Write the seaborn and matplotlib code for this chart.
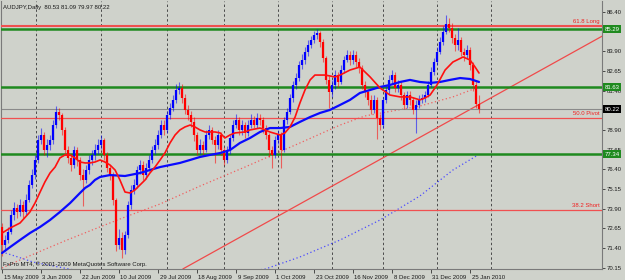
import numpy as np
import pandas as pd
import matplotlib
matplotlib.use("Agg")
import matplotlib.pyplot as plt
import matplotlib.transforms as mtransforms
import seaborn as sns

sns.set_style("white")
plt.rcParams['font.family'] = ['Liberation Sans', 'DejaVu Sans']

# ---------------- data ----------------
header_text = "AUDJPY,Daily  80.53 81.09 79.97 80.22"
footer_text = "FxPro MT4, \u00a9 2001-2009 MetaQuotes Software Corp."

first_open = 72.70
closes = [71.58, 71.90, 72.41, 73.49, 73.93, 73.68, 74.13, 73.68, 74.44, 75.40,
          76.03, 76.99, 78.26, 78.58, 77.62, 77.94, 78.26, 79.21, 80.04, 79.85,
          78.90, 77.62, 77.11, 76.67, 77.62, 76.99, 76.03, 75.72, 76.35, 76.99,
          77.31, 77.62, 77.94, 78.26, 77.31, 76.48, 76.03, 74.44, 71.58, 72.03,
          71.26, 72.22, 74.13, 75.08, 75.40, 76.35, 76.67, 76.03, 76.48, 76.99,
          77.62, 77.94, 78.58, 79.21, 78.90, 79.85, 80.30, 80.81, 81.44, 81.57,
          80.93, 80.17, 79.85, 79.41, 78.58, 77.62, 77.94, 77.62, 78.58, 78.90,
          78.26, 77.94, 78.58, 77.62, 76.99, 77.62, 78.39, 79.21, 79.53, 78.90,
          79.21, 78.71, 79.21, 79.53, 79.21, 79.66, 79.53, 79.02, 78.58, 77.62,
          77.31, 78.26, 78.58, 77.62, 79.53, 80.04, 80.93, 81.76, 82.20, 83.03,
          83.35, 83.86, 84.30, 84.62, 84.94, 85.07, 84.50, 83.48, 82.08, 81.31,
          81.76, 82.39, 81.95, 82.71, 83.35, 83.67, 83.35, 83.67, 83.22, 82.84,
          81.76, 81.31, 80.81, 80.17, 80.81, 79.66, 79.21, 80.81, 81.44, 82.08,
          82.39, 81.57, 81.76, 81.12, 80.49, 81.12, 80.81, 80.17, 80.49, 80.81,
          80.93, 81.12, 81.76, 82.58, 83.22, 83.86, 84.50, 85.13, 85.64, 85.38,
          84.75, 84.30, 84.62, 83.86, 83.67, 83.99, 83.03, 81.76, 80.53, 80.22]
highs = [72.95, 72.20, 72.70, 73.80, 74.30, 74.20, 74.50, 74.40, 74.80, 75.70,
         76.40, 77.30, 78.60, 79.00, 78.80, 78.30, 78.60, 79.50, 80.40, 80.30,
         80.00, 79.10, 77.90, 77.40, 77.90, 77.80, 77.20, 76.40, 76.70, 77.30,
         77.60, 78.00, 78.30, 78.55, 78.40, 77.50, 76.70, 76.20, 74.60, 72.60,
         72.40, 72.50, 74.40, 75.40, 75.80, 76.60, 77.00, 76.90, 76.80, 77.30,
         77.90, 78.30, 78.90, 79.50, 79.50, 80.10, 80.60, 81.10, 81.80, 81.95,
         81.80, 81.20, 80.50, 80.10, 79.70, 78.80, 78.30, 78.20, 78.90, 79.20,
         79.10, 78.50, 78.90, 78.80, 77.80, 77.90, 78.60, 79.50, 79.90, 79.70,
         79.50, 79.40, 79.50, 79.90, 79.80, 80.00, 79.90, 79.70, 79.20, 78.70,
         77.90, 78.50, 78.90, 78.80, 79.70, 80.30, 81.20, 82.00, 82.50, 83.30,
         83.70, 84.20, 84.60, 84.90, 85.20, 85.35, 85.20, 84.70, 83.60, 82.30,
         82.10, 82.70, 82.60, 83.00, 83.60, 84.00, 83.90, 84.00, 83.90, 83.50,
         83.00, 82.00, 81.50, 81.10, 81.10, 81.00, 79.90, 81.00, 81.70, 82.40,
         82.70, 82.60, 82.10, 82.00, 81.30, 81.40, 81.40, 81.00, 80.80, 81.10,
         81.20, 81.40, 82.00, 82.90, 83.50, 84.20, 84.80, 85.50, 86.20, 86.00,
         85.70, 85.00, 85.40, 84.80, 84.10, 84.30, 84.20, 83.20, 82.00, 81.09]
lows = [70.90, 71.20, 71.70, 72.30, 73.20, 73.30, 73.40, 73.30, 73.50, 74.30,
        75.20, 75.80, 76.80, 78.00, 77.30, 77.20, 77.60, 78.00, 79.00, 79.50,
        78.60, 77.30, 76.80, 76.30, 76.50, 76.60, 75.70, 74.05, 75.50, 76.10,
        76.70, 77.00, 77.40, 77.70, 77.00, 76.20, 75.70, 74.10, 71.20, 71.30,
        70.75, 71.00, 72.00, 73.90, 74.80, 75.20, 76.10, 75.70, 75.80, 76.30,
        76.80, 77.40, 77.70, 78.40, 78.60, 78.70, 79.60, 80.10, 80.60, 81.20,
        80.60, 79.90, 79.50, 79.10, 78.20, 77.30, 77.40, 77.30, 77.50, 78.30,
        78.00, 76.80, 77.70, 77.30, 76.70, 76.80, 77.40, 78.20, 79.00, 78.60,
        78.60, 78.40, 78.50, 79.00, 79.00, 79.00, 79.20, 78.70, 78.30, 77.20,
        76.50, 77.10, 78.00, 76.50, 77.50, 79.30, 79.90, 80.70, 81.50, 82.00,
        82.80, 83.10, 83.60, 84.10, 84.40, 84.70, 84.20, 83.20, 81.80, 80.30,
        81.00, 81.50, 81.60, 81.80, 82.50, 83.20, 83.00, 83.10, 82.90, 82.50,
        81.50, 81.00, 80.50, 79.90, 80.00, 78.30, 78.90, 79.00, 80.60, 81.20,
        81.90, 81.30, 81.30, 80.80, 80.20, 80.30, 80.50, 79.90, 78.70, 80.30,
        80.60, 80.70, 81.00, 81.60, 82.40, 83.00, 83.70, 84.30, 85.00, 85.10,
        84.40, 83.90, 84.00, 83.60, 83.30, 83.40, 82.70, 81.40, 80.30, 79.97]
opens = [first_open] + closes[:-1]

# moving averages (bar index, price)
ma_fast_bar = [0, 2.7, 6, 9.3, 11, 12.7, 14.3, 16, 17.7, 19.3, 21, 22.7, 24.3, 26, 27.7, 29.3,
               31, 32.7, 34.3, 36, 37.7, 39.3, 41, 42.7, 44.3, 46, 47.7, 49.3, 51, 52.7, 54.3,
               56, 57.7, 59.3, 61, 62.7, 64.3, 66, 67.7, 71, 72.7, 74.3, 76, 77.7, 81, 82.7,
               86, 87.7, 89.3, 92.7, 94.3, 96, 97.7, 99.3, 101, 102.7, 104.3, 107.7, 111,
               112.7, 116, 119.3, 122.7, 126, 129.3, 132.7, 136, 139.3, 141, 142.7, 145,
               147.7, 150.3, 153.7, 156, 157.7, 159]
ma_fast_val = [72.34, 72.66, 72.98, 73.68, 74.25, 74.95, 75.59, 76.16, 76.54, 77.12, 77.31,
               77.31, 77.12, 76.86, 76.80, 76.80, 76.86, 76.99, 76.86, 76.67, 76.35, 75.72,
               74.95, 74.89, 75.08, 75.40, 75.72, 76.16, 76.54, 76.99, 77.43, 78.07, 78.58,
               78.90, 79.09, 79.21, 79.09, 78.90, 78.77, 78.77, 78.71, 78.39, 78.58, 78.71,
               78.77, 78.90, 79.02, 78.90, 78.77, 78.58, 78.71, 79.09, 79.72, 80.61, 81.44,
               82.08, 82.39, 82.39, 82.27, 82.39, 82.71, 82.90, 82.27, 81.57, 81.12, 81.00,
               81.00, 80.81, 80.93, 81.12, 81.76, 82.71, 83.22, 83.54, 83.35, 82.90, 82.52]

ma_mid_bar = [0, 2.7, 6, 9.3, 12.7, 16, 19.3, 22.7, 26, 27.7, 29.3, 31, 32.7, 36, 41, 46,
              49.3, 52.7, 56, 59.3, 62.7, 66, 69.3, 72.7, 76, 79.3, 82.7, 86, 89.3, 92.7,
              96, 99.3, 102.7, 106, 109.3, 112.7, 116, 119.3, 122.7, 126, 129.3, 132.7,
              136, 139.3, 142.7, 146, 149.3, 152.7, 156, 159]
ma_mid_val = [71.07, 71.45, 71.90, 72.34, 72.73, 73.17, 73.68, 74.25, 74.89, 75.21, 75.40,
              75.72, 75.91, 76.03, 75.97, 76.16, 76.35, 76.54, 76.67, 76.80, 76.99, 77.18,
              77.31, 77.43, 77.62, 78.07, 78.39, 78.77, 79.02, 79.02, 79.09, 79.41, 79.72,
              79.98, 80.17, 80.49, 80.81, 81.25, 81.44, 81.63, 81.76, 81.95, 82.08, 81.95,
              81.89, 81.95, 82.08, 82.20, 82.14, 81.95]

ma_slow_bar = [0, 6, 13.7, 21.7, 31.7, 41, 52.7, 66, 81, 99.3, 112.7, 121, 130.3, 139.3, 150.3, 159]
ma_slow_val = [70.12, 70.63, 71.26, 71.90, 72.66, 73.36, 74.19, 75.33, 76.54, 78.07, 79.21,
               79.79, 80.11, 80.42, 81.00, 81.63]

ma_long_bar = [0, 4.3, 10.3, 32.7, 59.3, 87.7, 99.3, 112.7, 126, 139.3, 150.3, 158.7]
ma_long_val = [71.14, 70.88, 70.50, 69.67, 69.35, 70.05, 70.82, 71.90, 73.17, 74.70, 76.35, 77.31]

trend_bar = [60.3, 200]
trend_val = [70.06, 84.86]

fib_levels = [85.50, 79.64, 73.82]
fib_labels = ["61.8 Long", "50.0 Pivot", "38.2 Short"]
sr_levels = [85.29, 81.63, 77.34]
sr_labels = ["85.29", "81.63", "77.34"]
bid_price = 80.22
bid_label = "80.22"

price_ticks = [70.15, 71.40, 72.65, 73.90, 75.15, 76.40, 77.65, 78.90, 80.15, 81.40,
               82.65, 83.90, 85.15, 86.40]
hidden_ticks = [80.15, 85.15]   # covered by the boxed price labels
date_bars = [0, 13, 26, 39, 52, 65, 78, 91, 104, 117, 130, 143, 156]
date_labels = ["15 May 2009", "3 Jun 2009", "22 Jun 2009", "10 Jul 2009", "29 Jul 2009",
               "18 Aug 2009", "9 Sep 2009", "1 Oct 2009", "23 Oct 2009", "16 Nov 2009",
               "8 Dec 2009", "31 Dec 2009", "25 Jan 2010"]
month_start_bars = [11.3, 32.9, 54.9, 74.0, 91.9, 109.9, 126.9, 144.9, 162.9]

# ---------------- figure ----------------
BG = '#cfd2cb'
W, H = 625, 280
fig = plt.figure(figsize=(W / 100, H / 100), dpi=100, facecolor=BG)
ax = fig.add_axes([1 / W, 11 / H, 601 / W, 268 / H], facecolor=BG)
ax.set_xlim(-1 / 3, 200)
ax.set_ylim(70.055, 87.10)

FS = 4.3
TXT = '#1a1a1a'

# grid
for b in month_start_bars:
    ax.axvline(b, color='#4a4a4a', lw=0.7, ls=(0, (2.5, 2.5)), zorder=1)

# slow MAs (dotted)
sns.lineplot(x=ma_slow_bar, y=ma_slow_val, ax=ax, color='#f06060', lw=0.9,
             ls=(0, (1, 2)), sort=False, estimator=None, zorder=2)
sns.lineplot(x=ma_long_bar, y=ma_long_val, ax=ax, color='#4b4bff', lw=0.9,
             ls=(0, (1, 2)), sort=False, estimator=None, zorder=2)

# trendline
sns.lineplot(x=trend_bar, y=trend_val, ax=ax, color='#f04a4a', lw=0.9,
             sort=False, estimator=None, zorder=2)

# levels
ax.axhline(bid_price, color='#8a8a8a', lw=0.8, zorder=2)
for lv, lab in zip(fib_levels, fib_labels):
    lw = 1.5 if lab.startswith("61.8") else 0.9
    ax.axhline(lv, color='#f05050', lw=lw, zorder=3)
    ax.text(199.3, lv + 0.12, lab, color='#f02020', fontsize=FS, ha='right',
            va='bottom', zorder=6)
for lv in sr_levels:
    ax.axhline(lv, color='#1f8a1f', lw=1.8, zorder=3)

# candles
xs = np.arange(len(closes))
df = pd.DataFrame({'bar': xs, 'open': opens, 'high': highs, 'low': lows, 'close': closes})
df['color'] = np.where(df['close'] >= df['open'], '#0000ff', '#ff0000')
ax.vlines(df['bar'], df['low'], df['high'], colors=df['color'], lw=0.8, alpha=0.55, zorder=4)
ax.vlines(df['bar'], df['open'], df['close'], colors=df['color'], lw=1.6, zorder=4)

# fast MAs
sns.lineplot(x=ma_mid_bar, y=ma_mid_val, ax=ax, color='#0a0aff', lw=1.6,
             sort=False, estimator=None, zorder=5)
sns.lineplot(x=ma_fast_bar, y=ma_fast_val, ax=ax, color='#ff1010', lw=1.2,
             sort=False, estimator=None, zorder=5)

# axes styling
ax.spines['top'].set_visible(False)
for s in ['left', 'right', 'bottom']:
    ax.spines[s].set_color('#7a7a7a')
    ax.spines[s].set_linewidth(0.8)

ax.yaxis.tick_right()
ax.set_yticks(price_ticks)
ax.set_yticklabels(["" if p in hidden_ticks else f"{p:.2f}" for p in price_ticks])
ax.tick_params(axis='y', which='both', length=2.5, width=0.6, color='#333333',
               labelsize=FS, labelcolor=TXT, pad=1, right=True, left=False)
ax.set_xticks(date_bars)
ax.set_xticklabels(date_labels)
ax.tick_params(axis='x', length=3, width=0.6, color='#333333', labelsize=FS,
               labelcolor=TXT, pad=1, bottom=True)
for lab in ax.get_xticklabels():
    lab.set_ha('left')
    lab.set_transform(lab.get_transform() + mtransforms.ScaledTranslation(1.5 / 100, 0, fig.dpi_scale_trans))
ax.set_xlabel("")
ax.set_ylabel("")

# right-axis boxed labels
ytrans = mtransforms.blended_transform_factory(ax.transAxes, ax.transData)
for lv, lab in zip(sr_levels, sr_labels):
    ax.text(1.004, lv, lab, transform=ytrans, fontsize=FS, color='white', ha='left',
            va='center', clip_on=False, zorder=10,
            bbox=dict(boxstyle='square,pad=0.25', fc='#1f8a1f', ec='none'))
ax.text(1.004, bid_price, bid_label, transform=ytrans, fontsize=FS, color='white',
        ha='left', va='center', clip_on=False, zorder=10,
        bbox=dict(boxstyle='square,pad=0.25', fc='#000000', ec='none'))

fig.text(3 / W, 1 - 7 / H, header_text, fontsize=FS, color=TXT, ha='left', va='center')
fig.text(3 / W, 1 - 264 / H, footer_text, fontsize=FS, color=TXT, ha='left', va='center')

fig.savefig("out.png", dpi=100, facecolor=BG)
